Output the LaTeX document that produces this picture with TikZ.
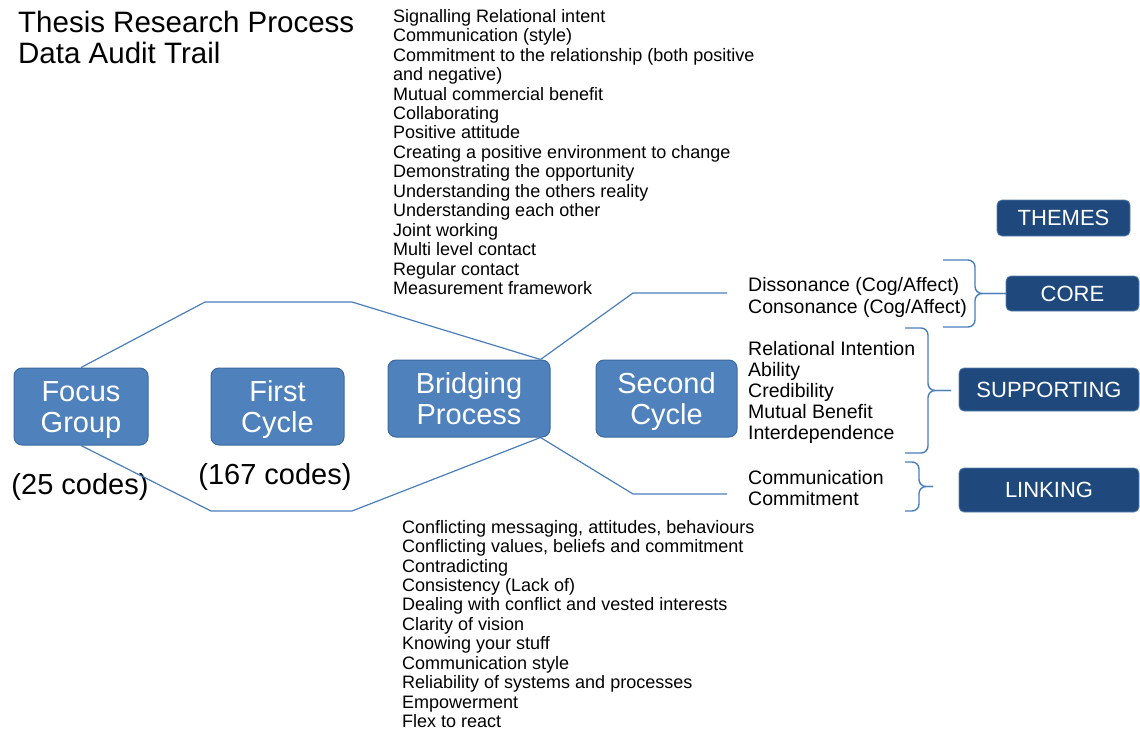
\documentclass[tikz,border=0pt]{standalone}
\usepackage{fontspec}
\setmainfont{Liberation Sans}
\usetikzlibrary{positioning}
\definecolor{stageblue}{HTML}{4F81BD}
\definecolor{stageedge}{HTML}{3C6A9E}
\definecolor{themenavy}{HTML}{1F497D}
\definecolor{themeedge}{HTML}{5A7FAE}
\definecolor{wire}{HTML}{4A7EBB}
\tikzset{stage/.style={draw=stageedge,fill=stageblue,rounded corners=8pt,line width=1pt,text=white,align=center,font=\fontsize{29}{31}\selectfont,minimum height=77pt,inner sep=0pt,text height=59pt,text depth=7pt}, theme/.style={draw=themeedge,fill=themenavy,rounded corners=5pt,line width=.8pt,text=white,font=\fontsize{22}{24}\selectfont,inner sep=0pt}, codes/.style={anchor=west,align=left,inner sep=0pt,font=\fontsize{18}{19.45}\selectfont}, sublist/.style={codes,font=\fontsize{19.5}{21.2}\selectfont}, wireline/.style={draw=wire,line width=1.2pt}, curly/.style={draw=wire,line width=1.4pt,rounded corners=7pt}}
% right-hand curly brace: open x, spine x, top y, bottom y, tip x
\newcommand{\sidebrace}[5]{%
\draw[curly] (#1,#3) -| (#2,{(#3+#4)/2}) -- (#5,{(#3+#4)/2});
\draw[curly] (#1,#4) -| (#2,{(#3+#4)/2}) -- (#5,{(#3+#4)/2});}
\begin{document}
\begin{tikzpicture}[x=1pt,y=-1pt]
\useasboundingbox (0,0) rectangle (1140,731);
\node[anchor=west,align=left,inner sep=0pt,font=\fontsize{29.5}{31}\selectfont] (title) at (18,37.5) {Thesis Research Process\\Data Audit Trail};
% coding stages
\node[stage,minimum width=134pt] (fg) at (81,406.5) {Focus\\Group};
\node[stage,minimum width=133pt] (fc) at (277.5,406.5) {First\\Cycle};
\node[stage,minimum width=162pt] (bp) at (469,398.5) {Bridging\\Process};
\node[stage,minimum width=141pt] (sc) at (666.5,398.5) {Second\\Cycle};
\node[inner sep=0pt,font=\fontsize{29}{31}\selectfont] (fgn) at (80,487) {(25 codes)};
\node[inner sep=0pt,font=\fontsize{29}{31}\selectfont] (fcn) at (275,477) {(167 codes)};
% hexagon round the first stages, then the fork
\coordinate (up1) at (205,302); \coordinate (up2) at (352,302);
\coordinate (lo1) at (211,511); \coordinate (lo2) at (352,511);
\coordinate (bpt) at ([xshift=-10pt]bp.north east);
\coordinate (bpb) at ([xshift=-10pt]bp.south east);
\coordinate (cr1) at (633,293); \coordinate (cr2) at (727,293);
\coordinate (lk1) at (633,494); \coordinate (lk2) at (727,494);
\draw[wireline] (fg.north)--(up1)--(up2)--(bpt);
\draw[wireline] (fg.south)--(lo1)--(lo2)--(bpb);
\draw[wireline] (bpt)--(cr1)--(cr2);
\draw[wireline] (bpb)--(lk1)--(lk2);
% code lists
\node[codes] (pros) at (393,152) {Signalling Relational intent\\Communication (style)\\Commitment to the relationship (both positive\\and negative)\\Mutual commercial benefit\\Collaborating\\Positive attitude\\Creating a positive environment to change\\Demonstrating the opportunity\\Understanding the others reality\\Understanding each other\\Joint working\\Multi level contact\\Regular contact\\Measurement framework};
\node[codes] (cons) at (402,624) {Conflicting messaging, attitudes, behaviours\\Conflicting values, beliefs and commitment\\Contradicting\\Consistency (Lack of)\\Dealing with conflict and vested interests\\Clarity of vision\\Knowing your stuff\\Communication style\\Reliability of systems and processes\\Empowerment\\Flex to react};
\node[sublist] (corelist) at (748,297.5) {Dissonance (Cog/Affect)\\Consonance (Cog/Affect)};
\node[sublist] (supplist) at (748,392.5) {Relational Intention\\Ability\\Credibility\\Mutual Benefit\\Interdependence};
\node[sublist] (linklist) at (748,488) {Communication\\Commitment};
% themes
\node[theme,minimum width=133pt,minimum height=36pt] (themes) at (1063.5,218) {THEMES};
\node[theme,minimum width=133pt,minimum height=35pt] (core) at (1072.5,293.5) {CORE};
\node[theme,minimum width=180pt,minimum height=43pt] (supp) at (1049,389.5) {SUPPORTING};
\node[theme,minimum width=180pt,minimum height=44pt] (linking) at (1049,490) {LINKING};
\sidebrace{943}{975}{260}{327}{1006}
\sidebrace{905}{928}{328}{453}{951}
\sidebrace{905}{919}{462}{511}{933}
\end{tikzpicture}
\end{document}
